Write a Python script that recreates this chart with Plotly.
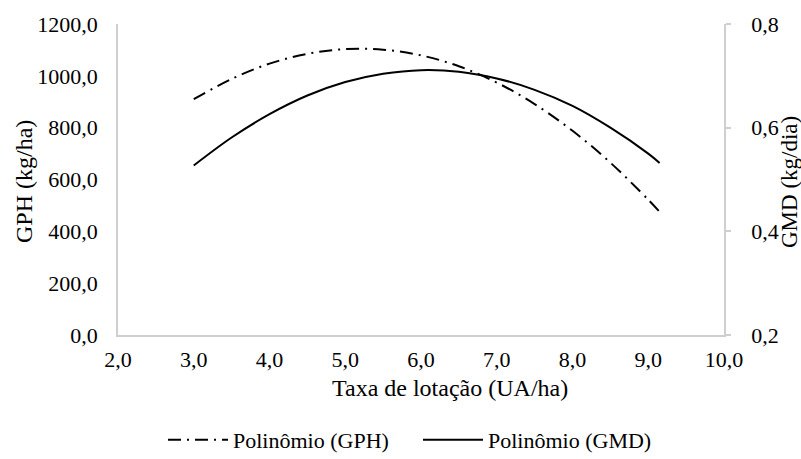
import plotly.graph_objects as go

# Stocking rate (UA/ha) and fitted polynomial responses
taxa = [3.0, 3.5, 4.0, 4.5, 5.0, 5.5, 6.0, 6.5, 7.0, 7.5, 8.0, 8.5, 9.0, 9.15]
gph = [910, 988, 1047, 1085, 1103, 1101, 1079, 1037, 974, 891, 788, 665, 522, 475]
gmd = [0.527, 0.581, 0.626, 0.662, 0.688, 0.704, 0.711, 0.708, 0.695, 0.673,
       0.642, 0.600, 0.550, 0.532]

x_ticks = [2, 3, 4, 5, 6, 7, 8, 9, 10]
y1_ticks = [0, 200, 400, 600, 800, 1000, 1200]
y2_ticks = [0.2, 0.4, 0.6, 0.8]

FONT = "Times New Roman"
AXIS_GRAY = "#cfcfcf"

# plot area in pixels: x 118..724, y 24..335
W, H = 801, 459
PL, PT, PW, PH = 118, 24, 606, 311
PB = PT + PH


def px(x):
    return (x - PL) / PW


def py(y):
    return (PB - y) / PH


fig = go.Figure()
fig.add_trace(go.Scatter(
    x=taxa, y=gph, mode="lines", name="Polinômio (GPH)",
    line=dict(color="black", width=2, dash="13px,6px,2px,6px", shape="spline"),
    yaxis="y",
))
fig.add_trace(go.Scatter(
    x=taxa, y=gmd, mode="lines", name="Polinômio (GMD)",
    line=dict(color="black", width=2, shape="spline"),
    yaxis="y2",
))

fig.update_layout(
    width=W, height=H,
    margin=dict(l=PL, r=W - PL - PW, t=PT, b=H - PB, autoexpand=False),
    paper_bgcolor="white", plot_bgcolor="white",
    separators=",.",
    font=dict(family=FONT, size=22, color="black"),
    showlegend=True,
    legend=dict(
        orientation="h", x=px(163), y=py(440), xanchor="left", yanchor="middle",
        font=dict(family=FONT, size=22), itemwidth=60, entrywidth=180,
        bgcolor="rgba(0,0,0,0)",
    ),
    xaxis=dict(
        range=[2, 10], tickvals=x_ticks, tickformat=".1f",
        showgrid=False, zeroline=False,
        showline=True, linecolor=AXIS_GRAY, linewidth=1.5,
        ticks="", ticklabelstandoff=4,
        tickfont=dict(family=FONT, size=22),
    ),
    yaxis=dict(
        range=[0, 1200], tickvals=y1_ticks, tickformat=".1f",
        showgrid=False, zeroline=False,
        showline=True, linecolor=AXIS_GRAY, linewidth=1.5,
        ticks="", ticklabelstandoff=14,
        tickfont=dict(family=FONT, size=22),
    ),
    yaxis2=dict(
        range=[0.2, 0.8], tickvals=y2_ticks, tickformat=".1f",
        overlaying="y", side="right",
        showgrid=False, zeroline=False,
        showline=True, linecolor=AXIS_GRAY, linewidth=1.5,
        ticks="outside", ticklen=5, tickcolor=AXIS_GRAY, tickwidth=1.5,
        ticklabelstandoff=16,
        tickfont=dict(family=FONT, size=22),
    ),
    annotations=[
        dict(text="Taxa de lotação (UA/ha)", xref="paper", yref="paper",
             x=px(450), y=py(388),
             xanchor="center", yanchor="middle", showarrow=False,
             font=dict(family=FONT, size=24)),
        dict(text="GPH (kg/ha)", xref="paper", yref="paper",
             x=px(24), y=py(182), textangle=-90,
             xanchor="center", yanchor="middle", showarrow=False,
             font=dict(family=FONT, size=24)),
        dict(text="GMD (kg/dia)", xref="paper", yref="paper",
             x=px(789), y=py(182), textangle=-90,
             xanchor="center", yanchor="middle", showarrow=False,
             font=dict(family=FONT, size=23)),
    ],
)

fig.write_html("out.html")
